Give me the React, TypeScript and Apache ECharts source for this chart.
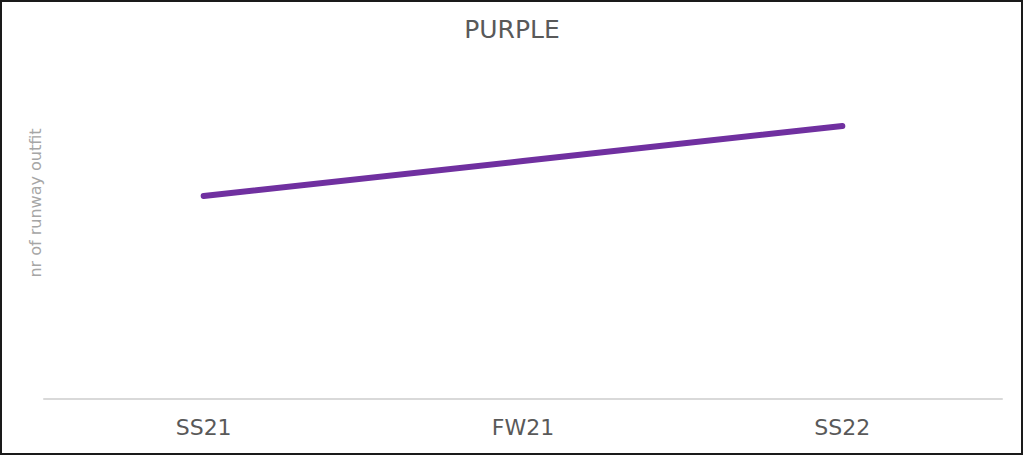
import React, { useEffect, useRef } from "react";
import * as echarts from "echarts";

const categories = ["SS21", "FW21", "SS22"];
const purpleValues = [29, 34, 39];
const titleText = "PURPLE";
const yAxisName = "nr of runway outfit";

export default function App() {
  const ref = useRef<HTMLDivElement>(null);
  useEffect(() => {
    document.body.style.margin = "0";
    const chart = echarts.init(ref.current!, null, { renderer: "svg" });
    chart.setOption({
      animation: false,
      backgroundColor: "#ffffff",
      title: {
        text: titleText,
        left: "center",
        top: 12,
        textStyle: { fontFamily: "DejaVu Sans", fontWeight: "normal", fontSize: 25, color: "#595959" },
      },
      grid: { left: 44, right: 22, top: 7, bottom: 57 },
      xAxis: {
        type: "category",
        data: categories,
        boundaryGap: true,
        axisLine: { lineStyle: { color: "#d9d9d9", width: 2 } },
        axisTick: { show: false },
        axisLabel: { fontFamily: "DejaVu Sans", fontSize: 22, color: "#595959", margin: 17 },
      },
      yAxis: {
        type: "value",
        min: 0,
        max: 56,
        name: yAxisName,
        nameLocation: "middle",
        nameGap: 1,
        nameTextStyle: { fontFamily: "DejaVu Sans", fontSize: 16, color: "#a6a6a6" },
        axisLine: { show: false },
        axisTick: { show: false },
        axisLabel: { show: false },
        splitLine: { show: false },
      },
      series: [
        {
          type: "line",
          data: purpleValues,
          symbol: "none",
          lineStyle: { color: "#7030a0", width: 6, cap: "round", join: "round" },
        },
      ],
      graphic: [
        {
          type: "rect",
          shape: { x: 1, y: 1, width: 1021, height: 453 },
          style: { fill: "none", stroke: "#1a1a1a", lineWidth: 2 },
          silent: true,
        },
      ],
    });
    return () => chart.dispose();
  }, []);
  return <div ref={ref} style={{ width: 1024, height: 456 }} />;
}
